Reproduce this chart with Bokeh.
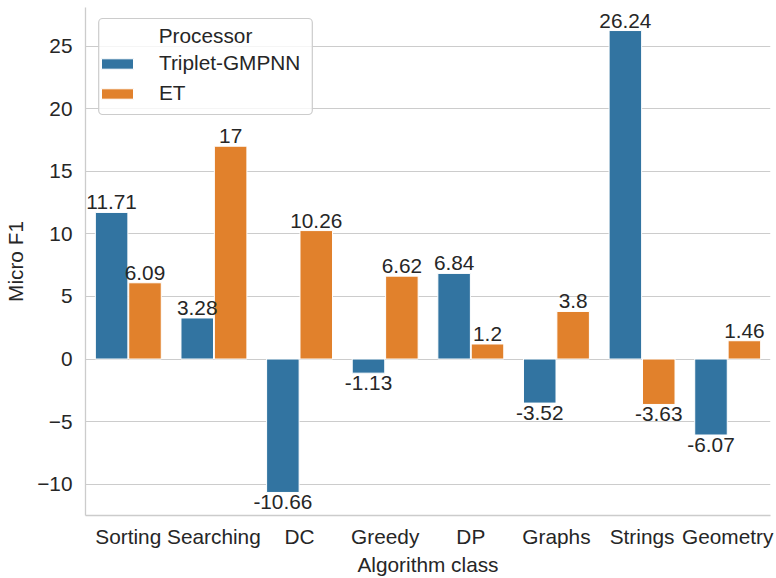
from bokeh.plotting import figure
from bokeh.models import ColumnDataSource, FactorRange, Range1d, FixedTicker, Label
from bokeh.transform import dodge
from bokeh.embed import file_html
from bokeh.resources import INLINE

categories = ["Sorting", "Searching", "DC", "Greedy", "DP", "Graphs", "Strings", "Geometry"]
series_names = ["Triplet-GMPNN", "ET"]
triplet_gmpnn = [11.71, 3.28, -10.66, -1.13, 6.84, -3.52, 26.24, -6.07]
et = [6.09, 17.0, 10.26, 6.62, 1.2, 3.8, -3.63, 1.46]
y_ticks = [-10, -5, 0, 5, 10, 15, 20, 25]

FONT = "Liberation Sans"
FS = "20.8px"
TXT = "#262626"
GRID = "#cccccc"
colors = ["#3274a1", "#e1812c"]
offsets = [-0.195, 0.195]

def fmt(v):
    return ("%g" % v)

p = figure(width=776, height=578, output_backend="svg", toolbar_location=None,
           x_range=FactorRange(factors=categories, range_padding=0),
           y_range=Range1d(-12.5, 28.08),
           min_border_left=85, min_border_right=6, min_border_top=7, min_border_bottom=60)
p.outline_line_color = None
p.background_fill_color = "white"
p.border_fill_color = "white"

series = [triplet_gmpnn, et]
for name, vals, col, off in zip(series_names, series, colors, offsets):
    src = ColumnDataSource(dict(cat=categories, val=vals, zero=[0] * len(vals)))
    p.vbar(x=dodge("cat", off, range=p.x_range), top="val", bottom="zero", width=0.38,
           source=src, fill_color=col, line_color="white", line_width=1, legend_label=name)

for vals, off in zip(series, offsets):
    pos = [i for i, v in enumerate(vals) if v >= 0]
    neg = [i for i, v in enumerate(vals) if v < 0]
    for idx, base, yoff in ((pos, "bottom", -3), (neg, "top", 3)):
        s = ColumnDataSource(dict(cat=[categories[i] for i in idx], val=[vals[i] for i in idx],
                                  lab=[fmt(vals[i]) for i in idx]))
        p.text(x=dodge("cat", off, range=p.x_range), y="val", text="lab", source=s,
               text_align="center", text_baseline=base, y_offset=yoff, text_font_size=FS,
               text_color=TXT, text_font={"value": FONT})

p.xgrid.grid_line_color = None
p.ygrid.grid_line_color = GRID
p.ygrid.grid_line_width = 1.2
p.yaxis.ticker = FixedTicker(ticks=y_ticks)
p.yaxis.major_label_overrides = {t: (("\u2212" + str(abs(t))) if t < 0 else str(t)) for t in y_ticks}

for ax in (p.xaxis[0], p.yaxis[0]):
    ax.axis_line_color = GRID
    ax.axis_line_width = 1.3
    ax.major_tick_line_color = None
    ax.minor_tick_line_color = None
    ax.major_tick_out = 0
    ax.major_tick_in = 0
    ax.major_label_text_font = FONT
    ax.major_label_text_font_size = FS
    ax.major_label_text_color = TXT
    ax.axis_label_text_font = FONT
    ax.axis_label_text_font_size = FS
    ax.axis_label_text_color = TXT
    ax.axis_label_text_font_style = "normal"

p.xaxis.axis_label = "Algorithm class"
p.yaxis.axis_label = "Micro F1"
p.xaxis.major_label_standoff = 9
p.xaxis.axis_label_standoff = 2
p.yaxis.major_label_standoff = 13
p.yaxis.axis_label_standoff = 7

# legend title box drawn as a padded Label beneath the (transparent) legend
title_label = Label(x=120, y=497, x_units="screen", y_units="screen",
                    text="Processor", text_align="center", text_baseline="top",
                    text_font=FONT, text_font_size=FS, text_color=TXT,
                    background_fill_color="white", background_fill_alpha=0.8,
                    border_line_color=GRID, border_line_width=1.2, border_radius=4,
                    padding=dict(left=60, right=60, top=5, bottom=68))
p.add_layout(title_label)

lg = p.legend[0]
lg.title = " "
lg.title_text_font = FONT
lg.title_text_font_size = FS
lg.title_standoff = 8
lg.label_text_font = FONT
lg.label_text_font_size = FS
lg.label_text_color = TXT
lg.label_height = 24
lg.label_standoff = 22
lg.glyph_width = 40
lg.glyph_height = 13
lg.spacing = 6
lg.padding = 8
lg.margin = 12
lg.location = "top_left"
lg.border_line_color = None
lg.background_fill_alpha = 0

html = file_html(p, INLINE)
open("out.html", "w").write(html)
